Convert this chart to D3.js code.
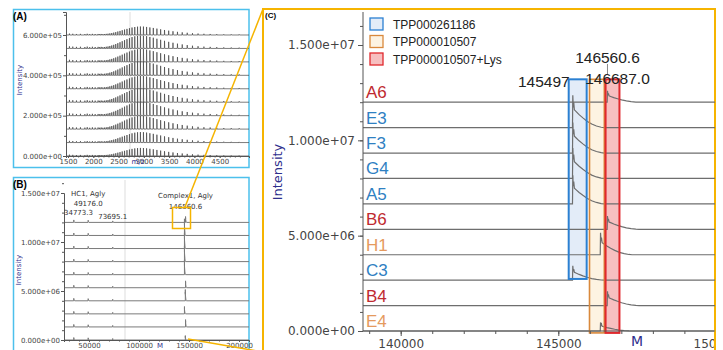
<!DOCTYPE html>
<html>
<head>
<meta charset="utf-8">
<script src="https://cdn.jsdelivr.net/npm/d3@7"></script>
<style>
  body { margin: 0; background: #fff; }
  svg { display: block; }
</style>
</head>
<body>
<svg id="fig" width="723" height="350"></svg>
<script>
// ---------- data ----------
// panel A: charge-state envelope (m/z of each peak and its relative height)
const mzPeaks = [4886, 4729, 4581, 4442, 4312, 4188, 4072, 3962, 3858, 3759, 3665, 3576, 3491, 3409, 3332,
  3258, 3187, 3119, 3054, 2992, 2932, 2875, 2820, 2766, 2715, 2666, 2618, 2572, 2528, 2485, 2444, 2404,
  2365, 2327, 2291, 2256, 2222, 2189, 2156, 2125, 2095, 2037, 1982, 1929, 1880, 1833, 1746, 1667, 1594, 1528];
const mzRel = [0.06, 0.07, 0.08, 0.1, 0.12, 0.14, 0.17, 0.21, 0.26, 0.31, 0.37, 0.44, 0.51, 0.59, 0.67,
  0.75, 0.83, 0.89, 0.95, 0.99, 1.0, 0.98, 0.94, 0.88, 0.8, 0.72, 0.64, 0.56, 0.48, 0.41, 0.34, 0.28,
  0.23, 0.19, 0.15, 0.13, 0.11, 0.1, 0.12, 0.1, 0.12, 0.11, 0.13, 0.1, 0.14, 0.11, 0.13, 0.12, 0.14, 0.16];
const runMaxA = [42000, 64000, 64000, 70000, 64000, 70000, 70000, 66000, 52000, 40000];
const offsetsA = [600000, 533333, 466667, 400000, 333333, 266667, 200000, 133333, 66667, 0];
const ticksAx = [1500, 2000, 2500, 3000, 3500, 4000, 4500];
const ticksAy = [0, 200000, 400000, 600000];

// panels B and C: deconvolved mass spectra
const samples = ['A6', 'E3', 'F3', 'G4', 'A5', 'B6', 'H1', 'C3', 'B4', 'E4'];
const sampleSpecies = [2, 0, 0, 0, 0, 2, 1, 0, 2, 1];
const mainHeight = [600000, 1700000, 1600000, 1600000, 1500000, 700000, 1150000, 750000, 750000, 450000];
const offsetsC = [12000000, 10666667, 9333333, 8000000, 6666667, 5333333, 4000000, 2666667, 1333333, 0];
const fragMass = [34773.3, 49176.0, 73695.1];
const fragHeight = [250000, 220000, 150000];
// peak shape: [Da from apex, relative intensity]
const peakShape = [[-10, 0], [0, 1], [15, 0.62], [30, 0.78], [50, 0.55], [100, 0.5], [200, 0.4],
  [320, 0.3], [450, 0.2], [600, 0.11], [750, 0.05], [900, 0.012], [1000, 0]];

const speciesNames = ['TPP000261186', 'TPP000010507', 'TPP000010507+Lys'];
const speciesStroke = ['#2b80d2', '#d9893c', '#e0282d'];
const speciesFill = ['#e3ecf8', '#fdf3e2', '#f7bfc0'];
const speciesMass = [145460, 146340, 146560];
const boxLo = [145330, 145990, 146500];
const boxHi = [145900, 146460, 146940];
const boxTop = [13200000, 13200000, 13200000];
const boxBottom = [2730000, -100000, -100000];
const labelColor = ['#2f80c2', '#e59a5e', '#bf2a30'];

const ticksBx = [50000, 100000, 150000, 200000];
const ticksBy = [0, 5000000, 10000000, 15000000];
const ticksCx = [140000, 145000, 150000];
const ticksCy = [0, 5000000, 10000000, 15000000];

// ---------- helpers ----------
const svg = d3.select('#fig');
const navy = '#2e2e8c';
const sci = v => v.toExponential(3).replace(/e([+-])(\d)$/, 'e$10$2');

function styleAxis(g, size, family) {
  g.select('.domain').attr('stroke', '#555');
  g.selectAll('.tick line').attr('stroke', '#555');
  g.selectAll('.tick text').attr('fill', '#444')
    .style('font-family', family).style('font-size', size + 'px');
}

function spectrum(i) {
  const base = offsetsC[i];
  const pts = [[0, base]];
  fragMass.forEach((m, k) => {
    const h = fragHeight[k];
    pts.push([m - 100, base], [m, base + h], [m + 300, base + 0.3 * h], [m + 800, base]);
  });
  const apex = speciesMass[sampleSpecies[i]];
  peakShape.forEach(p => pts.push([apex + p[0], base + mainHeight[i] * p[1]]));
  pts.push([260000, base]);
  return pts;
}

const defs = svg.append('defs');
function clip(id, x, y, w, h) {
  defs.append('clipPath').attr('id', id).append('rect')
    .attr('x', x).attr('y', y).attr('width', w).attr('height', h);
}

// ---------- panel A ----------
const xA = d3.scaleLinear().domain([1460, 5080]).range([66, 249]);
const yA = d3.scaleLinear().domain([0, 714000]).range([156, 12]);
clip('clipA', 66, 10, 183, 148);

svg.append('rect').attr('x', 13.5).attr('y', 9.5).attr('width', 235.5).attr('height', 158)
  .attr('fill', 'none').attr('stroke', '#4cc0ec').attr('stroke-width', 1.5);

svg.append('line').attr('x1', 130).attr('x2', 130).attr('y1', 12).attr('y2', 156)
  .attr('stroke', '#ddd');

const lineA = d3.line().x(d => xA(d[0])).y(d => yA(d[1]));
const gA = svg.append('g').attr('clip-path', 'url(#clipA)');
offsetsA.forEach((off, r) => {
  const pts = [[1400, off]];
  mzPeaks.slice().reverse().forEach((mz, k) => {
    const h = runMaxA[r] * mzRel[mzPeaks.length - 1 - k];
    pts.push([mz - 3, off], [mz, off + h], [mz + 4, off + 0.12 * h], [mz + 12, off]);
  });
  pts.push([5200, off]);
  gA.append('path').attr('d', lineA(pts)).attr('fill', 'none')
    .attr('stroke', '#444').attr('stroke-width', 0.7);
});

const axAy = svg.append('g').attr('transform', 'translate(66,0)')
  .call(d3.axisLeft(yA).tickValues(ticksAy).tickFormat(sci).tickSize(3).tickPadding(1));
styleAxis(axAy, 7, 'DejaVu Sans');
svg.append('g').attr('transform', 'translate(66,0)')
  .call(d3.axisLeft(yA).tickValues(d3.range(100000, 700001, 200000)).tickFormat('').tickSize(2))
  .call(g => { g.select('.domain').remove(); g.selectAll('line').attr('stroke', '#555'); });
const axAx = svg.append('g').attr('transform', 'translate(0,156)')
  .call(d3.axisBottom(xA).tickValues(ticksAx).tickFormat(d3.format('d')).tickSize(2).tickPadding(1));
styleAxis(axAx, 7, 'DejaVu Sans');
svg.append('g').attr('transform', 'translate(0,156)')
  .call(d3.axisBottom(xA).tickValues(d3.range(1600, 5000, 100)).tickFormat('').tickSize(1.5))
  .call(g => { g.select('.domain').remove(); g.selectAll('line').attr('stroke', '#555'); });

svg.append('text').attr('x', 138).attr('y', 164).attr('text-anchor', 'middle')
  .style('font-family', 'DejaVu Sans').style('font-size', '7px').attr('fill', navy).text('m/z');
svg.append('text').attr('transform', 'translate(22,80) rotate(-90)').attr('text-anchor', 'middle')
  .style('font-family', 'DejaVu Sans').style('font-size', '7px').attr('fill', navy).text('Intensity');
svg.append('text').attr('x', 13).attr('y', 20)
  .style('font-family', 'Liberation Sans').style('font-size', '10px').style('font-weight', 'bold')
  .text('(A)');

// ---------- panel B ----------
const xB = d3.scaleLinear().domain([25000, 210000]).range([64, 249]);
const yB = d3.scaleLinear().domain([0, 15000000]).range([340, 193]);
clip('clipB', 64, 178, 185, 163);

svg.append('rect').attr('x', 13.5).attr('y', 177.5).attr('width', 235.5).attr('height', 200)
  .attr('fill', 'none').attr('stroke', '#4cc0ec').attr('stroke-width', 1.5);
svg.append('line').attr('x1', 125).attr('x2', 125).attr('y1', 180).attr('y2', 340)
  .attr('stroke', '#ddd');

const lineB = d3.line().x(d => xB(d[0])).y(d => yB(d[1]));
const gB = svg.append('g').attr('clip-path', 'url(#clipB)');
samples.forEach((s, i) => {
  gB.append('path').attr('d', lineB(spectrum(i))).attr('fill', 'none')
    .attr('stroke', '#7a7a7a').attr('stroke-width', 1);
});

const axBy = svg.append('g').attr('transform', 'translate(64,0)')
  .call(d3.axisLeft(yB).tickValues(ticksBy).tickFormat(sci).tickSize(3).tickPadding(1));
styleAxis(axBy, 7, 'DejaVu Sans');
svg.append('g').attr('transform', 'translate(64,0)')
  .call(d3.axisLeft(yB).tickValues(d3.range(1000000, 16000001, 1000000)).tickFormat('').tickSize(2))
  .call(g => { g.select('.domain').remove(); g.selectAll('line').attr('stroke', '#555'); });
const axBx = svg.append('g').attr('transform', 'translate(0,340)')
  .call(d3.axisBottom(xB).tickValues(ticksBx).tickFormat(d3.format('d')).tickSize(2).tickPadding(1));
styleAxis(axBx, 7, 'DejaVu Sans');
svg.append('g').attr('transform', 'translate(0,340)')
  .call(d3.axisBottom(xB).tickValues(d3.range(30000, 210000, 10000)).tickFormat('').tickSize(1.5))
  .call(g => { g.select('.domain').remove(); g.selectAll('line').attr('stroke', '#555'); });

svg.append('text').attr('x', 160).attr('y', 348).attr('text-anchor', 'middle')
  .style('font-family', 'DejaVu Sans').style('font-size', '7px').attr('fill', navy).text('M');
svg.append('text').attr('transform', 'translate(21,270) rotate(-90)').attr('text-anchor', 'middle')
  .style('font-family', 'DejaVu Sans').style('font-size', '7px').attr('fill', navy).text('Intensity');
svg.append('text').attr('x', 13).attr('y', 188)
  .style('font-family', 'Liberation Sans').style('font-size', '10px').style('font-weight', 'bold')
  .text('(B)');

const annB = [
  ['HC1, Agly', xB(49176), 196, 'middle'],
  ['49176.0', xB(49176), 206, 'middle'],
  ['34773.3', 64, 215, 'start'],
  ['73695.1', xB(73695), 219, 'middle'],
  ['Complex1, Agly', xB(146560), 198, 'middle'],
  ['146560.6', xB(146560), 209, 'middle']
];
annB.forEach(a => svg.append('text').attr('x', a[1]).attr('y', a[2]).attr('text-anchor', a[3])
  .style('font-family', 'DejaVu Sans').style('font-size', '7px').attr('fill', '#333').text(a[0]));

// zoom box in B and connector lines
svg.append('rect').attr('x', 172.5).attr('y', 207.5).attr('width', 18).attr('height', 21)
  .attr('fill', 'none').attr('stroke', '#f5b400').attr('stroke-width', 1.5);
svg.append('line').attr('x1', 185).attr('y1', 207).attr('x2', 263).attr('y2', 9)
  .attr('stroke', '#f5b400').attr('stroke-width', 1.5);
svg.append('line').attr('x1', 188).attr('y1', 339).attr('x2', 263).attr('y2', 352)
  .attr('stroke', '#f5b400').attr('stroke-width', 1.5);

// ---------- panel C ----------
const xC = d3.scaleLinear().domain([140000, 145000]).range([400.7, 558.3]);
const yC = d3.scaleLinear().domain([0, 15000000]).range([331, 45]);
clip('clipC', 363, 11, 352, 321);
clip('clipCx', 263, -10, 451, 40);

svg.append('rect').attr('x', 263).attr('y', 9).attr('width', 452).attr('height', 360)
  .attr('fill', '#fff').attr('stroke', '#f6b400').attr('stroke-width', 2);

// species boxes (fills behind the traces)
speciesNames.forEach((n, k) => {
  svg.append('rect').attr('x', xC(boxLo[k])).attr('y', yC(boxTop[k]))
    .attr('width', xC(boxHi[k]) - xC(boxLo[k])).attr('height', yC(boxBottom[k]) - yC(boxTop[k]))
    .attr('fill', speciesFill[k]);
});

const lineC = d3.line().x(d => xC(d[0])).y(d => yC(d[1]));
const gC = svg.append('g').attr('clip-path', 'url(#clipC)');
samples.forEach((s, i) => {
  gC.append('path').attr('d', lineC(spectrum(i))).attr('fill', 'none')
    .attr('stroke', '#6e6e6e').attr('stroke-width', 1.2);
});

speciesNames.forEach((n, k) => {
  svg.append('rect').attr('x', xC(boxLo[k])).attr('y', yC(boxTop[k]))
    .attr('width', xC(boxHi[k]) - xC(boxLo[k])).attr('height', yC(boxBottom[k]) - yC(boxTop[k]))
    .attr('fill', 'none').attr('stroke', speciesStroke[k]).attr('stroke-width', k === 1 ? 1.6 : 2);
});

// sample labels
samples.forEach((s, i) => {
  svg.append('text').attr('x', 366).attr('y', yC(offsetsC[i]) - 4)
    .style('font-family', 'Liberation Sans').style('font-size', '17px')
    .attr('fill', labelColor[sampleSpecies[i]]).text(s);
});

// axes
const axCy = svg.append('g').attr('transform', 'translate(363,0)')
  .call(d3.axisLeft(yC).tickValues(ticksCy).tickFormat(sci).tickSize(5).tickPadding(3));
axCy.select('.domain').attr('d', 'M0,12V331');
styleAxis(axCy, 12, 'DejaVu Sans');
svg.append('g').attr('transform', 'translate(363,0)')
  .call(d3.axisLeft(yC).tickValues(d3.range(1000000, 16000001, 1000000)).tickFormat('').tickSize(3))
  .call(g => { g.select('.domain').remove(); g.selectAll('line').attr('stroke', '#555'); });

const axCx = svg.append('g').attr('transform', 'translate(0,331)').attr('clip-path', 'url(#clipCx)')
  .call(d3.axisBottom(xC).tickValues(ticksCx).tickFormat(d3.format('d')).tickSize(5).tickPadding(3));
axCx.select('.domain').attr('d', 'M363,0H715');
styleAxis(axCx, 12, 'DejaVu Sans');
svg.append('g').attr('transform', 'translate(0,331)')
  .call(d3.axisBottom(xC).tickValues(d3.range(139000, 150000, 1000)).tickFormat('').tickSize(3))
  .call(g => { g.select('.domain').remove(); g.selectAll('line').attr('stroke', '#555'); });

svg.append('text').attr('x', 637).attr('y', 346).attr('text-anchor', 'middle')
  .style('font-family', 'DejaVu Sans').style('font-size', '14px').attr('fill', navy).text('M');
svg.append('text').attr('transform', 'translate(282,172) rotate(-90)').attr('text-anchor', 'middle')
  .style('font-family', 'DejaVu Sans').style('font-size', '13px').attr('fill', navy).text('Intensity');
svg.append('text').attr('x', 265).attr('y', 18)
  .style('font-family', 'Liberation Sans').style('font-size', '8px').style('font-weight', 'bold')
  .text('(C)');

// peak annotations
svg.append('line').attr('x1', xC(speciesMass[2])).attr('x2', xC(speciesMass[2]))
  .attr('y1', 64).attr('y2', 74).attr('stroke', '#888');
const annC = [
  ['145497', xC(boxLo[0]) + 1, 87, 'end'],
  ['146560.6', xC(speciesMass[2]), 63, 'middle'],
  ['146687.0', xC(speciesMass[2]) + 10, 84, 'middle']
];
annC.forEach(a => svg.append('text').attr('x', a[1]).attr('y', a[2]).attr('text-anchor', a[3])
  .style('font-family', 'Liberation Sans').style('font-size', '15.5px').attr('fill', '#222').text(a[0]));

// legend
speciesNames.forEach((n, k) => {
  const y = 18 + k * 17.5;
  svg.append('rect').attr('x', 370).attr('y', y).attr('width', 13).attr('height', 12)
    .attr('fill', speciesFill[k]).attr('stroke', speciesStroke[k]).attr('stroke-width', 1.3);
  svg.append('text').attr('x', 393).attr('y', y + 10.5)
    .style('font-family', 'Liberation Sans').style('font-size', '12px').attr('fill', '#222').text(n);
});
</script>
</body>
</html>
